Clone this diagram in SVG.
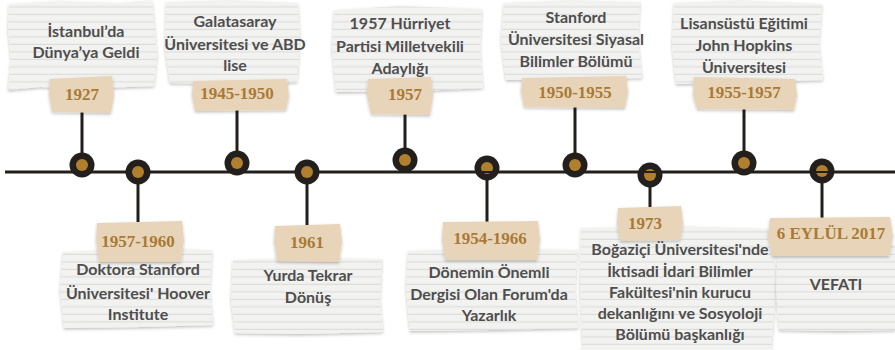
<svg xmlns="http://www.w3.org/2000/svg" width="895" height="350" viewBox="0 0 895 350">
<defs>
<pattern id="ruled" patternUnits="userSpaceOnUse" width="40" height="7.5">
<rect width="40" height="7.5" fill="#f2f2f0"/>
<line x1="0" y1="6.8" x2="40" y2="6.8" stroke="#d0d0d0" stroke-width="0.8"/>
</pattern>
<filter id="sh" x="-10%" y="-10%" width="120%" height="130%">
<feDropShadow dx="0" dy="1.5" stdDeviation="1.5" flood-color="#000" flood-opacity="0.25"/>
</filter>
<style>
.paper{fill:url(#ruled);filter:url(#sh)}
.tag{fill:#e8d5b9;filter:url(#sh)}
.t{font-family:Lato,"Open Sans",sans-serif;font-weight:700;font-size:16px;fill:#4e4e4e;text-anchor:middle}
.y{font-family:"Liberation Serif","DejaVu Serif",serif;font-weight:700;font-size:17px;fill:#a87a36;text-anchor:middle}
.conn{stroke:#231f1c;stroke-width:3;fill:none}
.outer{fill:#231f1c}
.inner{fill:#b0802f}
</style>
</defs>
<rect width="895" height="350" fill="#ffffff"/>

<g id="connectors">
<line class="conn" x1="5" y1="172" x2="895" y2="172"/>
<line class="conn" x1="82" y1="112" x2="82" y2="165"/>
<line class="conn" x1="237" y1="110" x2="237" y2="163"/>
<line class="conn" x1="405" y1="114" x2="405" y2="160"/>
<line class="conn" x1="575" y1="107" x2="575" y2="165"/>
<line class="conn" x1="744" y1="109" x2="744" y2="163"/>
<line class="conn" x1="138" y1="172" x2="138" y2="222"/>
<line class="conn" x1="307" y1="172" x2="307" y2="225"/>
<line class="conn" x1="487" y1="168" x2="487" y2="222"/>
<line class="conn" x1="650" y1="175" x2="650" y2="208"/>
<line class="conn" x1="822" y1="171" x2="822" y2="218"/>
</g>

<g id="node-1927">
<polygon class="paper" points="9,4 60,1 120,3 152,0 155,30 157,55 154,86 100,88 40,87 8,90 11,60 8,30"/>
<text class="t" x="86" y="37">İstanbul’da</text>
<text class="t" x="86" y="58">Dünya’ya Geldi</text>
<polygon class="tag" points="50,79 112,76 114,95 111,113 52,112 49,95"/>
<text class="y" x="82" y="100">1927</text>
<circle class="outer" cx="82" cy="165" r="12.5"/><circle class="inner" cx="82" cy="165" r="6"/>
</g>

<g id="node-1945">
<polygon class="paper" points="166,2 230,0 298,3 300,40 297,82 240,84 170,83 165,50"/>
<text class="t" x="235" y="27">Galatasaray</text>
<text class="t" x="235" y="50">Üniversitesi ve ABD</text>
<text class="t" x="235" y="71">lise</text>
<polygon class="tag" points="193,81 287,79 289,96 286,110 195,111 192,96"/>
<text class="y" x="237" y="99">1945-1950</text>
<circle class="outer" cx="237" cy="163" r="12.5"/><circle class="inner" cx="237" cy="163" r="6"/>
</g>

<g id="node-1957">
<polygon class="paper" points="334,10 400,6 482,9 480,50 483,88 420,91 336,92 332,50"/>
<text class="t" x="400" y="29">1957 Hürriyet</text>
<text class="t" x="400" y="52">Partisi Milletvekili</text>
<text class="t" x="400" y="74">Adaylığı</text>
<polygon class="tag" points="368,79 431,77 433,96 430,115 371,114 367,96"/>
<text class="y" x="405" y="100">1957</text>
<circle class="outer" cx="405" cy="160" r="12.5"/><circle class="inner" cx="405" cy="160" r="6"/>
</g>

<g id="node-1950">
<polygon class="paper" points="504,3 570,0 640,2 638,40 642,78 580,79 506,80 501,40"/>
<text class="t" x="576" y="23">Stanford</text>
<text class="t" x="576" y="45">Üniversitesi Siyasal</text>
<text class="t" x="576" y="67">Bilimler Bölümü</text>
<polygon class="tag" points="522,78 626,76 628,92 625,108 524,107 521,92"/>
<text class="y" x="575" y="98">1950-1955</text>
<circle class="outer" cx="575" cy="165" r="12.5"/><circle class="inner" cx="575" cy="165" r="6"/>
</g>

<g id="node-1955">
<polygon class="paper" points="674,3 740,0 822,4 819,45 823,80 760,82 676,84 672,45"/>
<text class="t" x="744" y="29">Lisansüstü Eğitimi</text>
<text class="t" x="744" y="51">John Hopkins</text>
<text class="t" x="744" y="73">Üniversitesi</text>
<polygon class="tag" points="694,77 795,79 797,95 794,110 697,109 693,95"/>
<text class="y" x="744" y="98">1955-1957</text>
<circle class="outer" cx="744" cy="163" r="12.5"/><circle class="inner" cx="744" cy="163" r="6"/>
</g>

<g id="node-1957-1960">
<circle class="outer" cx="138" cy="172" r="12.5"/><circle class="inner" cx="138" cy="172" r="6"/>
<polygon class="paper" points="63,252 150,248 212,250 210,290 213,325 140,327 64,328 60,290"/>
<polygon class="tag" points="97,223 182,221 184,240 181,262 99,262 96,240"/>
<text class="y" x="138" y="247">1957-1960</text>
<text class="t" x="138" y="275">Doktora Stanford</text>
<text class="t" x="138" y="299">Üniversitesi' Hoover</text>
<text class="t" x="138" y="320">Institute</text>
</g>

<g id="node-1961">
<circle class="outer" cx="307" cy="172" r="12.5"/><circle class="inner" cx="307" cy="172" r="6"/>
<polygon class="paper" points="233,260 310,258 382,259 380,300 383,332 300,334 235,333 231,300"/>
<polygon class="tag" points="275,226 340,224 342,242 339,262 277,261 274,242"/>
<text class="y" x="307" y="248">1961</text>
<text class="t" x="308" y="281">Yurda Tekrar</text>
<text class="t" x="308" y="303">Dönüş</text>
</g>

<g id="node-1954">
<circle class="outer" cx="487" cy="168" r="12.5"/><circle class="inner" cx="487" cy="168" r="6"/>
<line x1="481" y1="172" x2="493" y2="172" stroke="#231f1c" stroke-width="2"/>
<polygon class="paper" points="408,251 490,248 577,250 575,290 578,328 490,330 410,331 406,290"/>
<polygon class="tag" points="443,222 538,221 540,240 537,260 445,260 442,240"/>
<text class="y" x="490" y="244">1954-1966</text>
<text class="t" x="489" y="278">Dönemin Önemli</text>
<text class="t" x="489" y="300">Dergisi Olan Forum'da</text>
<text class="t" x="489" y="321">Yazarlık</text>
</g>

<g id="node-1973">
<circle class="outer" cx="650" cy="175" r="12.5"/><circle class="inner" cx="650" cy="175" r="6"/>
<line x1="644" y1="172" x2="656" y2="172" stroke="#231f1c" stroke-width="2"/>
<polygon class="paper" points="581,228 680,226 772,229 776,290 771,350 680,350 583,350 580,290"/>
<polygon class="tag" points="618,208 681,206 683,223 680,240 620,241 617,223"/>
<text class="y" x="645" y="229">1973</text>
<text class="t" x="680" y="255">Boğaziçi Üniversitesi'nde</text>
<text class="t" x="680" y="277">İktisadi İdari Bilimler</text>
<text class="t" x="680" y="298">Fakültesi'nin kurucu</text>
<text class="t" x="680" y="319">dekanlığını ve Sosyoloji</text>
<text class="t" x="680" y="340">Bölümü başkanlığı</text>
</g>

<g id="node-2017">
<circle class="outer" cx="822" cy="171" r="12.5"/><circle class="inner" cx="822" cy="171" r="6"/>
<line x1="816" y1="172" x2="828" y2="172" stroke="#231f1c" stroke-width="2"/>
<polygon class="paper" points="778,246 840,244 895,245 895,330 840,331 779,330 776,290"/>
<polygon class="tag" points="770,218 890,217 893,236 889,256 772,256 768,236"/>
<text class="y" x="831" y="239">6 EYLÜL 2017</text>
<text class="t" x="836" y="290">VEFATI</text>
</g>
</svg>
